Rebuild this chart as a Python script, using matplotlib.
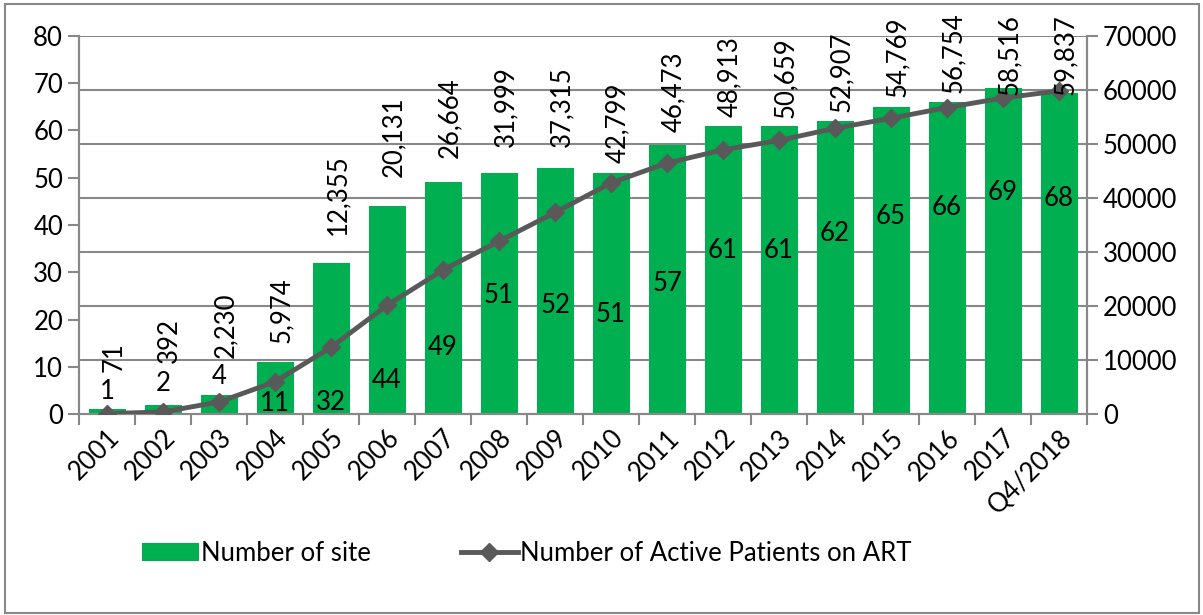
import numpy as np
import matplotlib.pyplot as plt
from matplotlib.patches import Rectangle

plt.rcParams['font.family'] = ['Lato', 'DejaVu Sans']

years = ["2001", "2002", "2003", "2004", "2005", "2006", "2007", "2008", "2009",
         "2010", "2011", "2012", "2013", "2014", "2015", "2016", "2017", "Q4/2018"]
sites = [1, 2, 4, 11, 32, 44, 49, 51, 52, 51, 57, 61, 61, 62, 65, 66, 69, 68]
patients = [71, 392, 2230, 5974, 12355, 20131, 26664, 31999, 37315, 42799,
            46473, 48913, 50659, 52907, 54769, 56754, 58516, 59837]

# where Excel happened to drop the labels (left-axis units / right-axis units)
site_label_y = [4.7, 6.5, 7.9, 2.3, 2.5, 7.0, 14.0, 25.0, 23.0, 21.0,
                27.7, 34.7, 34.7, 38.3, 41.7, 43.6, 46.8, 45.7]
patient_label_y = [7800, 9400, 10400, 13100, 33100, 43900, 47400, 49400, 49400,
                   46500, 52200, 55000, 54800, 55900, 58700, 59400, 59100, 59100]

green = "#00B050"
gray = "#595959"
axcol = "#888888"
fs = 18.5

fig = plt.figure(figsize=(12.03, 6.15), dpi=100)
fig.patches.append(Rectangle((0.004, 0.004), 0.993, 0.99, transform=fig.transFigure,
                             fill=False, edgecolor=axcol, linewidth=1.5))
ax = fig.add_axes([0.0657, 0.3268, 0.8379, 0.6147])
ax2 = ax.twinx()

left_max = 80
right_max = 70000
right_ticks = np.arange(0, right_max + 1, 10000)

x = np.arange(len(years))
# gridlines follow the right axis, but sit under the bars
for t in right_ticks[1:]:
    ax.axhline(t * left_max / right_max, color=axcol, lw=1.5, zorder=0)
ax.bar(x, sites, width=0.66, color=green, zorder=2, label="Number of site")
ax.set_ylim(0, left_max)
ax.set_xlim(-0.5, len(years) - 0.5)
ax.set_yticks(np.arange(0, left_max + 1, 10))
for i in range(len(years)):
    ax.text(x[i], site_label_y[i], str(sites[i]), ha="center", va="center",
            fontsize=fs, zorder=5)

ax2.plot(x, patients, color=gray, lw=3.5, marker="D", markersize=9,
         zorder=4, label="Number of Active Patients on ART")
ax2.set_ylim(0, right_max)
ax2.set_yticks(right_ticks)
for i in range(len(years)):
    ax2.text(x[i] + 0.12, patient_label_y[i], f"{patients[i]:,}", rotation=90,
             ha="center", va="bottom", fontsize=fs, zorder=5)

ax.set_zorder(ax2.get_zorder() - 1)
ax.patch.set_visible(False)
ax2.patch.set_visible(False)

ax.set_xticks(x)
ax.set_xticklabels(years, rotation=45, ha="right", rotation_mode="anchor", fontsize=fs)
ax.set_xticks(np.arange(-0.5, len(years)), minor=True)
ax.tick_params(axis="x", which="major", length=0, pad=8)
ax.tick_params(axis="x", which="minor", length=8, color=axcol, width=1.5)
ax.tick_params(axis="y", length=8, color=axcol, width=1.5, labelsize=fs)
ax2.tick_params(axis="y", length=8, color=axcol, width=1.5, labelsize=fs)

for a in (ax, ax2):
    for s in a.spines.values():
        s.set_color(axcol)
        s.set_linewidth(1.5)
    a.spines["top"].set_visible(False)

h1, l1 = ax.get_legend_handles_labels()
h2, l2 = ax2.get_legend_handles_labels()
fig.legend(h1 + h2, l1 + l2, loc="center", bbox_to_anchor=(0.438, 0.1),
           ncol=2, frameon=False, fontsize=fs, handlelength=2.2,
           handletextpad=0.1, columnspacing=3.5)

fig.savefig("out.png", dpi=100)
